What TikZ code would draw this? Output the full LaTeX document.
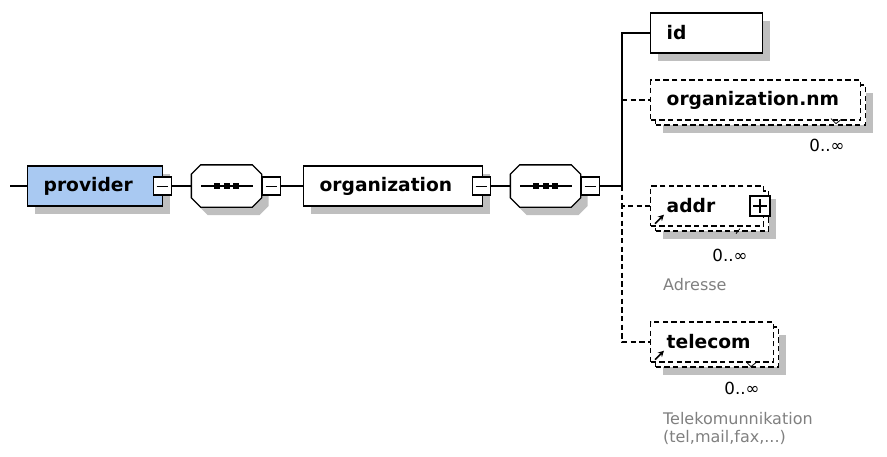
\documentclass[tikz,border=0pt]{standalone}
\usepackage{fontspec}
\setmainfont{DejaVu Sans}
\usetikzlibrary{shadows,arrows.meta}
\definecolor{provblue}{HTML}{A9C9F2}

% Octagon of a sequence compositor, drawn round a named node
\newcommand{\seqoct}[1]{%
    \draw[fill=white, drop shadow={shadow xshift=5.25pt, shadow yshift=-6pt, fill=black!25, opacity=1}]
        ([xshift=7pt]#1.north west) -- ([xshift=-7pt]#1.north east)
        -- ([yshift=-7pt]#1.north east) -- ([yshift=7pt]#1.south east)
        -- ([xshift=-7pt]#1.south east) -- ([xshift=7pt]#1.south west)
        -- ([yshift=7pt]#1.south west) -- ([yshift=-7pt]#1.north west) -- cycle;
    \draw[line width=0.8pt] ([xshift=7.5pt]#1.west) -- ([xshift=-6.5pt]#1.east);
    \foreach \d in {-7,0,7}
        \fill[black] ([xshift=\d pt]#1.center) +(-2.25pt,-2.25pt) rectangle +(2.25pt,2.25pt);
}

\begin{document}
\begin{tikzpicture}[x=0.75pt,y=-0.75pt,line width=1pt]
    % Define basic node styles
    \tikzset{
        elembox/.style={
            rectangle,
            draw,
            fill=white,
            minimum height=30pt,
            inner xsep=12pt,
            inner ysep=0pt,
            text width=#1,
            align=left,
            anchor=west,
            font=\bfseries\fontsize{14}{16}\selectfont
        },
        single/.style={
            drop shadow={shadow xshift=5.25pt, shadow yshift=-6pt, fill=black!25, opacity=1}
        },
        multi/.style={
            dash pattern=on 4pt off 2.5pt,
            drop shadow={shadow xshift=9pt, shadow yshift=-9.75pt, fill=black!25, opacity=1},
            copy shadow={shadow xshift=3.75pt, shadow yshift=-3.75pt, draw, dash pattern=on 4pt off 2.5pt, fill=white}
        },
        toggle/.style={
            rectangle,
            draw,
            fill=white,
            minimum size=13.5pt,
            inner sep=0pt,
            line width=0.8pt,
            path picture={
                \draw[line width=0.7pt] ([xshift=2.5pt]path picture bounding box.west)
                    -- ([xshift=-2.5pt]path picture bounding box.east);
            }
        },
        expand/.style={
            toggle,
            minimum size=15pt,
            path picture={
                \draw[line width=0.8pt] ([xshift=2.5pt]path picture bounding box.west)
                    -- ([xshift=-2.5pt]path picture bounding box.east)
                    ([yshift=-2.5pt]path picture bounding box.north)
                    -- ([yshift=2.5pt]path picture bounding box.south);
            }
        },
        seqbox/.style={
            rectangle,
            minimum width=51.75pt,
            minimum height=30.75pt,
            inner sep=0pt
        },
        card/.style={font=\fontsize{12.5}{14}\selectfont},
        doc/.style={anchor=west, text=black!50, align=left, font=\fontsize{12}{13.5}\selectfont},
        refarrow/.style={-{Stealth[length=4.5pt,width=4.5pt]}, line width=1.2pt}
    }

    \useasboundingbox (0,0) rectangle (887,456);

    % Main sequence
    \coordinate (start) at (10,186);
    \node[elembox=77.25pt, single, fill=provblue] (provider) at (27,186) {provider};
    \node[toggle] (provtog) at ([xshift=-0.75pt]provider.east) {};
    \node[seqbox] (seqa) at (226.5,186) {};
    \seqoct{seqa}
    \node[toggle, anchor=west] (seqatog) at (seqa.east) {};
    \node[elembox=110.25pt, single] (organization) at (303,186) {organization};
    \node[toggle] (orgtog) at ([xshift=-1.5pt]organization.east) {};
    \node[seqbox] (seqb) at (545.5,186) {};
    \seqoct{seqb}
    \node[toggle, anchor=west] (seqbtog) at (seqb.east) {};
    \coordinate (fork) at (622,186);

    % Children of organization
    \node[elembox=60pt, single] (id) at (650,33) {id};
    \node[elembox=133.5pt, multi] (orgnm) at (650,100) {organization.nm};
    \node[elembox=60.75pt, multi] (addr) at (650,206) {addr};
    \node[expand] (addrtog) at (760,206) {};
    \node[elembox=68.25pt, multi] (telecom) at (650,342) {telecom};

    % Cardinalities and notes
    \node[card] (orgnmcard) at (827,145) {0..∞};
    \node[card] (addrcard) at (730,255) {0..∞};
    \node[card] (telecomcard) at (742,388) {0..∞};
    \node[doc] (addrdoc) at (658,285) {Adresse};
    \node[doc] (telecomdoc) at (658,428) {Telekomunnikation\\(tel,mail,fax,...)};

    % Reference arrows
    \draw[refarrow] ([shift={(5,-3)}]addr.south west) -- ++(9,-9);
    \draw[refarrow] ([shift={(5,-3)}]telecom.south west) -- ++(9,-9);

    % Cardinality ticks
    \draw[line width=0.6pt] ([shift={(4,-15)}]orgnmcard.north) -- ++(5,5) -- ++(5,-4);
    \draw[line width=0.6pt] ([shift={(10,-15)}]addrcard.north) -- ++(-4,5);
    \draw[line width=0.6pt] ([shift={(4,-15)}]telecomcard.north) -- ++(5,5) -- ++(5,-4);

    % Connections
    \draw (start) -- (provider.west);
    \draw (provtog.east) -- (seqa.west);
    \draw (seqatog.east) -- (organization.west);
    \draw (orgtog.east) -- (seqb.west);
    \draw (seqbtog.east) -- (fork);
    \draw (fork) |- (id.west);
    \draw[dash pattern=on 4pt off 2.5pt] (fork |- orgnm.west) -- (orgnm.west);
    \draw[dash pattern=on 4pt off 2.5pt] (fork) |- (addr.west);
    \draw[dash pattern=on 4pt off 2.5pt] (fork) |- (telecom.west);
\end{tikzpicture}
\end{document}
